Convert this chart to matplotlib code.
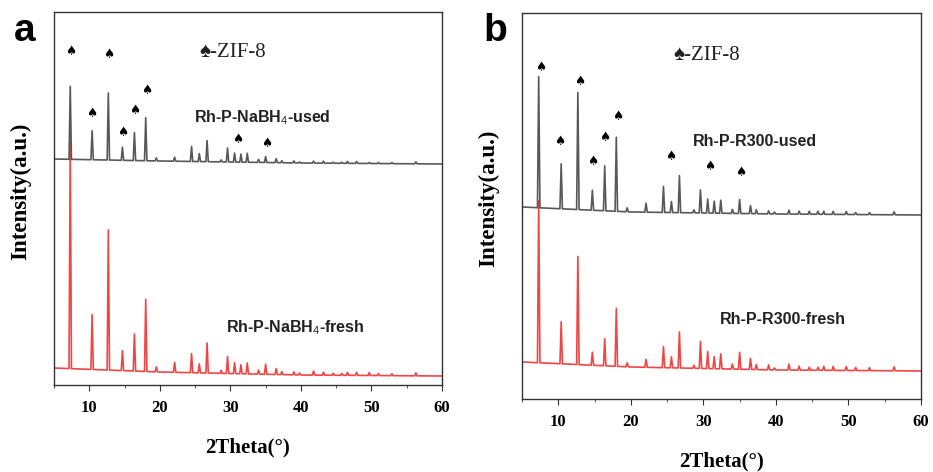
import numpy as np
import matplotlib.pyplot as plt
from matplotlib.ticker import MultipleLocator

plt.rcParams['font.family'] = ['Liberation Serif', 'DejaVu Sans']
plt.rcParams['mathtext.fontset'] = 'custom'
plt.rcParams['mathtext.rm'] = 'Liberation Sans'

# ZIF-8 reflections (2theta, degrees)
peak_pos = [7.3, 10.4, 12.7, 14.7, 16.4, 18.0, 19.5, 22.1, 24.5, 25.6, 26.7,
            28.7, 29.6, 30.6, 31.5, 32.4, 34.0, 35.0, 36.5, 37.3, 39.0, 39.8,
            41.8, 43.2, 44.6, 45.8, 46.6, 47.9, 49.7, 51.0, 52.9, 56.3]

# panel a: peak heights above baseline
a_used_h = [73, 29, 67, 13, 28, 43, 3, 4, 15, 8, 21,
            2, 14, 9, 8, 9, 3, 6, 4, 2, 2, 1,
            2, 2, 1, 1, 2, 2, 1, 1, 1, 2]
a_fresh_h = [226, 55, 140, 20, 37, 72, 5, 10, 19, 9, 30,
             3, 17, 11, 9, 11, 4, 10, 6, 3, 3, 2,
             4, 3, 2, 2, 3, 3, 3, 2, 2, 3]
# panel b: peak heights above baseline
b_used_h = [131, 45, 117, 20, 45, 74, 4, 9, 26, 11, 37,
            3, 23, 14, 12, 13, 4, 14, 8, 4, 3, 2,
            4, 3, 3, 3, 3, 3, 3, 2, 2, 3]
b_fresh_h = [162, 42, 108, 13, 27, 58, 4, 8, 21, 11, 36,
             3, 27, 17, 12, 15, 5, 17, 11, 5, 5, 2,
             6, 4, 3, 3, 4, 4, 4, 3, 3, 4]

# baselines: (2theta, intensity)
base_x = [5, 20, 40, 60]
a_used_base = [226, 224, 222, 221]
a_fresh_base = [17, 13, 10, 9]
b_used_base = [192, 187, 185, 184]
b_fresh_base = [37, 32, 29, 28]

# spade marks over the labelled reflections
a_spade_x = [7.3, 12.8, 10.3, 14.7, 16.4, 18.2, 31.0, 35.1]
a_spade_y = [333, 330, 271, 252, 274, 294, 245, 241]
b_spade_x = [7.5, 12.9, 10.2, 14.7, 16.4, 18.2, 25.5, 30.9, 35.2]
b_spade_y = [331, 317, 257, 237, 261, 282, 242, 232, 226]


def pattern(heights, base, w=0.17):
    xs, ys = [5.0], [np.interp(5.0, base_x, base)]
    for p, h in zip(peak_pos, heights):
        for dx, dh in ((-w, 0), (0, h), (w, 0)):
            xs.append(p + dx)
            ys.append(np.interp(p + dx, base_x, base) + dh)
    xs.append(60.0)
    ys.append(np.interp(60.0, base_x, base))
    return xs, ys


gray = '#585858'
red = '#f04545'

fig = plt.figure(figsize=(9.33, 4.72), dpi=100)
ax_a = fig.add_axes([0.0579, 0.1843, 0.4158, 0.7903])
ax_b = fig.add_axes([0.5595, 0.1547, 0.4276, 0.8178])

panels = [
    (ax_a, a_used_h, a_used_base, a_fresh_h, a_fresh_base, a_spade_x, a_spade_y, 373,
     'Rh-P-NaBH$_\\mathrm{4}$-used', (34.5, 267), 'Rh-P-NaBH$_\\mathrm{4}$-fresh', (39.2, 57), (30.4, 332)),
    (ax_b, b_used_h, b_used_base, b_fresh_h, b_fresh_base, b_spade_x, b_spade_y, 386,
     'Rh-P-R300-used', (37.1, 257), 'Rh-P-R300-fresh', (41.0, 79), (30.5, 343)),
]

for ax, uh, ub, fh, fb, sx, sy, top, ulab, upos, flab, fpos, zpos in panels:
    x, y = pattern(fh, fb)
    ax.plot(x, y, color=red, lw=1.2)
    x, y = pattern(uh, ub)
    ax.plot(x, y, color=gray, lw=1.2)
    for px, py in zip(sx, sy):
        ax.text(px, py, '\u2660', family='DejaVu Sans', fontsize=9,
                ha='center', va='center', color='black')
    ax.text(zpos[0], zpos[1], '\u2660-ZIF-8', fontsize=15, ha='center', va='center',
            color='#222222')
    ax.text(upos[0], upos[1], ulab, family='Liberation Sans', fontweight='bold',
            fontsize=11.5, ha='center', va='center', color='#222222')
    ax.text(fpos[0], fpos[1], flab, family='Liberation Sans', fontweight='bold',
            fontsize=11.5, ha='center', va='center', color='#222222')

    ax.set_xlim(5, 60)
    ax.set_ylim(0, top)
    ax.set_yticks([])
    ax.xaxis.set_major_locator(MultipleLocator(10))
    ax.xaxis.set_minor_locator(MultipleLocator(5))
    ax.tick_params(axis='x', which='both', direction='out', color='#333333',
                   labelsize=12, pad=7)
    ax.tick_params(axis='x', which='major', length=4)
    ax.tick_params(axis='x', which='minor', length=2.5)
    for lbl in ax.get_xticklabels():
        lbl.set_fontweight('bold')
    for s in ax.spines.values():
        s.set_color('#333333')
        s.set_linewidth(1.0)
    ax.set_xlabel('2Theta(\u00b0)', fontsize=15, fontweight='bold', labelpad=15)
    ax.set_ylabel('Intensity(a.u.)', fontsize=16.5, fontweight='bold')
    ax.yaxis.set_label_coords(-0.058, 0.52)

fig.text(0.026, 0.935, 'a', family='Liberation Sans', fontweight='bold', fontsize=28,
         ha='center', va='center')
fig.text(0.531, 0.935, 'b', family='Liberation Sans', fontweight='bold', fontsize=28,
         ha='center', va='center')

fig.savefig('out.png', dpi=100)
